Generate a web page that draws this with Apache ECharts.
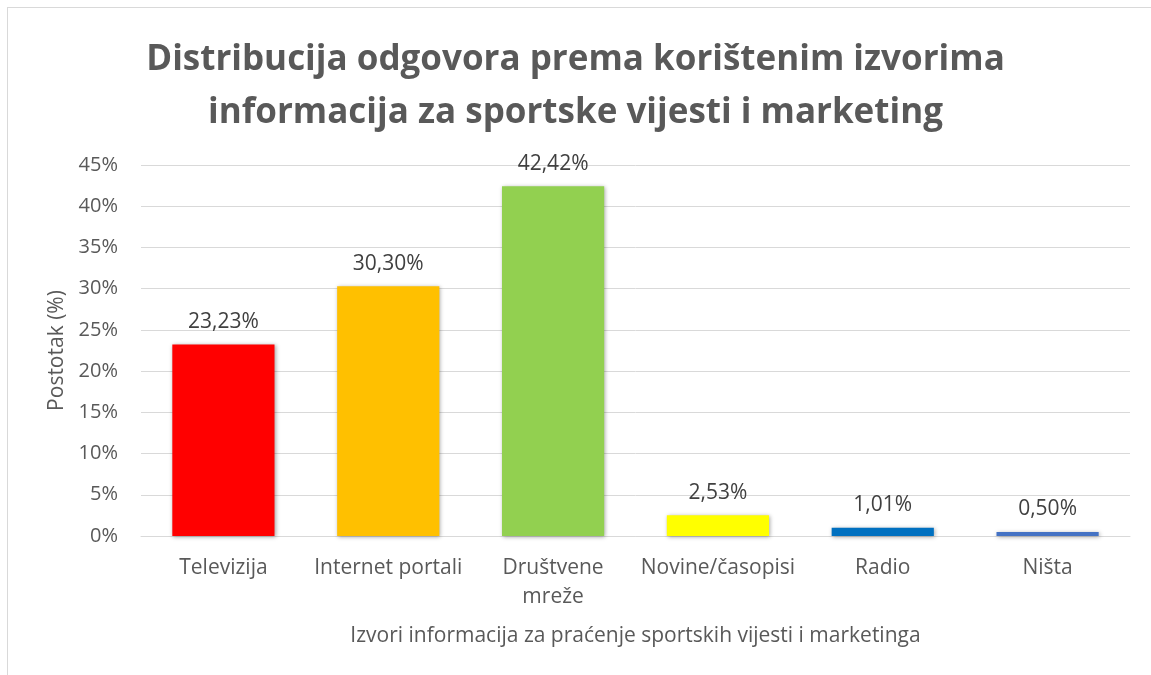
<!DOCTYPE html>
<html>
<head>
<meta charset="utf-8">
<script src="https://cdn.jsdelivr.net/npm/echarts@6/dist/echarts.min.js"></script>
<style>
  html, body { margin: 0; padding: 0; background: #fff; }
  #chart { width: 1151px; height: 675px; }
  .frame { position: absolute; left: 7px; top: 7px; width: 1200px; height: 700px; border: 1px solid #d9d9d9; pointer-events: none; }
</style>
</head>
<body>
<div id="chart"></div>
<div class="frame"></div>
<script>
// podaci
const categories = ['Televizija', 'Internet portali', 'Društvene mreže', 'Novine/časopisi', 'Radio', 'Ništa']
const values = [23.23, 30.30, 42.42, 2.53, 1.01, 0.50]
const barColors = ['#FF0000', '#FFC000', '#92D050', '#FFFF00', '#0070C0', '#4472C4']
const yTicks = [0, 5, 10, 15, 20, 25, 30, 35, 40, 45]

const font = '"Open Sans", Calibri, sans-serif'
const chart = echarts.init(document.getElementById('chart'))

chart.setOption({
  animation: false,
  textStyle: { fontFamily: font },
  title: {
    text: 'Distribucija odgovora prema korištenim izvorima\ninformacija za sportske vijesti i marketing',
    left: 'center',
    top: 29,
    textStyle: { fontSize: 35, fontWeight: 'bold', color: '#595959', lineHeight: 53, fontFamily: font }
  },
  grid: { left: 141, right: 21, top: 165, bottom: 139 },
  xAxis: {
    type: 'category',
    data: categories,
    name: 'Izvori informacija za praćenje sportskih vijesti i marketinga',
    nameLocation: 'middle',
    nameGap: 90,
    nameTextStyle: { fontSize: 21, color: '#595959' },
    axisLine: { lineStyle: { color: '#d9d9d9', width: 1 } },
    axisTick: { show: false },
    axisLabel: {
      fontSize: 21,
      color: '#595959',
      margin: 18,
      lineHeight: 29,
      interval: 0,
      formatter: v => v === 'Društvene mreže' ? 'Društvene\nmreže' : v
    }
  },
  yAxis: {
    type: 'value',
    min: yTicks[0],
    max: yTicks[yTicks.length - 1],
    interval: 5,
    name: 'Postotak (%)',
    nameLocation: 'middle',
    nameGap: 72,
    nameRotate: 90,
    nameTextStyle: { fontSize: 21, color: '#595959' },
    axisLine: { show: false },
    axisTick: { show: false },
    axisLabel: { fontSize: 20, color: '#595959', margin: 23, formatter: v => v + '%' },
    splitLine: { lineStyle: { color: '#d9d9d9', width: 1 } }
  },
  series: [{
    type: 'bar',
    barWidth: '62%',
    data: values.map((v, i) => ({
      value: v,
      itemStyle: {
        color: barColors[i],
        shadowBlur: 4,
        shadowColor: 'rgba(0,0,0,0.35)',
        shadowOffsetX: 1,
        shadowOffsetY: 1
      }
    })),
    label: {
      show: true,
      position: 'top',
      distance: 12,
      fontSize: 21,
      color: '#404040',
      formatter: p => p.value.toFixed(2).replace('.', ',') + '%'
    }
  }]
})
</script>
</body>
</html>
